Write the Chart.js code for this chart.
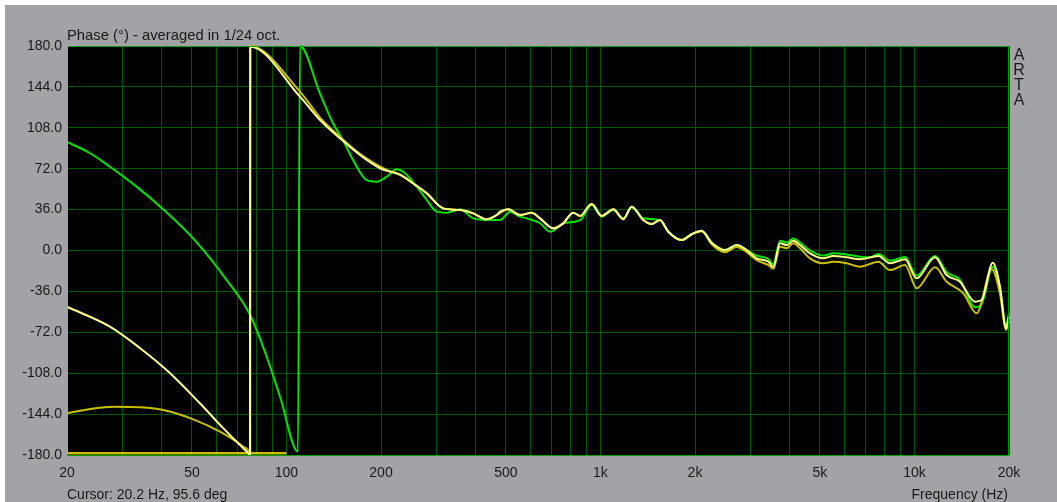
<!doctype html>
<html>

<head>
	<title>Phase - averaged in 1/24 oct.</title>
	<script src="https://cdn.jsdelivr.net/npm/chart.js@4"></script>
	<style>
		html, body {
			margin: 0;
			padding: 0;
			background: #fff;
		}
		#holder {
			width: 1057px;
			height: 502px;
		}
	</style>
</head>

<body>
	<div id="holder">
		<canvas id="phase" width="1057" height="502"></canvas>
	</div>
	<script>
		// axis grid / labels
		const GRID_HZ = [20, 30, 40, 50, 60, 70, 80, 90, 100, 200, 300, 400, 500, 600, 700, 800, 900,
			1000, 2000, 3000, 4000, 5000, 6000, 7000, 8000, 9000, 10000, 20000];
		const X_LABELS = {20: '20', 50: '50', 100: '100', 200: '200', 500: '500', 1000: '1k',
			2000: '2k', 5000: '5k', 10000: '10k', 20000: '20k'};
		const Y_TICKS = [-180, -144, -108, -72, -36, 0, 36, 72, 108, 144, 180];

		// green trace
		const GREEN_HZ = [20, 23.7, 27.4, 33.3, 39.6, 51, 64.5, 76.6, 86.5, 95.4, 108.8, 110.4,
			127.9, 140.7, 151.4, 162.9, 180, 193.8, 208.6, 224.4, 238.5, 259.9,
			279.7, 301, 323.8, 357, 393.4, 444.8, 478.6, 515, 554, 582,
			642, 690.6, 761, 860.6, 937.6, 1009, 1099, 1182, 1257, 1369,
			1547, 1644, 1814, 1952, 2100, 2260, 2492, 2716, 2922, 3144,
			3424, 3552, 3732, 3918, 4112, 4320, 4648, 5126, 5514, 6082,
			6708, 7218, 7672, 8356, 9330, 10164, 11626, 12666, 13964, 15586,
			16374, 17752, 18722, 19562, 20000];
		const GREEN_DEG = [95.6, 85.6, 73.7, 56.2, 38.6, 9.2, -26, -56.8, -93.5, -128.7, -177, 180,
			138, 112, 97, 79.7, 62, 60.6, 65, 71.5, 68, 56.2,
			44.5, 34.2, 33.3, 36.3, 28.3, 26.8, 26.8, 34.2, 29.8, 28.3,
			24, 16.5, 23.9, 26.8, 40, 29.8, 35.6, 28.3, 38, 28.3,
			26.8, 16.5, 9.2, 14.3, 17.4, 6.9, 0.4, 4.8, 0.4, -4.5,
			-7.5, -12, 8.5, 7, 10.5, 7, 0, -4.5, -2.5, -3.5,
			-5.5, -6, -3, -9, -5.8, -22, -4.8, -19, -26, -50,
			-47, -14.3, -34, -65.6, -55];

		// light yellow trace
		const YEL_HZ = [20, 27.4, 34.2, 42.6, 53, 62.2, 75.6, 76.6, 76.7, 110.4, 127.9, 148,
			171.4, 198.5, 230, 253.4, 279.7, 315.8, 357, 393.4, 434, 467,
			478.6, 508.6, 554, 604, 642, 707.6, 761, 819, 860.6, 937.6,
			1009, 1099, 1182, 1257, 1369, 1456, 1547, 1644, 1814, 1952,
			2100, 2260, 2492, 2716, 2922, 3144, 3424, 3552, 3732, 3918,
			4112, 4320, 4648, 5126, 5514, 6082, 6708, 7672, 8356, 9330,
			10164, 11626, 12666, 13964, 15586, 16374, 17752, 18722, 19562, 20000];
		const YEL_DEG = [-49.5, -67, -86, -108, -134.5, -155, -178.5, -180, 179.4, 135.4, 114.9, 98.8,
			84, 72.4, 66.5, 59, 50.4, 37.1, 35.7, 32.7, 27.5, 31.2,
			34.2, 36.3, 31.2, 33.3, 28.3, 19.5, 23.9, 33.3, 30.4, 40.9,
			30.4, 36.3, 27.5, 38.6, 26.8, 23.3, 26.8, 16.5, 9.2, 14.3,
			17.4, 6.9, 0.4, 4.8, 0.4, -6.9, -9.8, -14.3, 6.3, 4.8,
			8.6, 4.8, -2.5, -6.9, -4.8, -6, -7.7, -4.8, -11.3, -7.7,
			-24.5, -6, -21.6, -27.5, -45, -43.6, -10.7, -31.9, -68.5, -58];

		// dark yellow trace
		const OLIVE_HZ = [20, 24.3, 28.1, 34.2, 41.5, 50.5, 61.4, 72.9, 76.4, 76.5, 76.6, 110.4, 127.9,
			148, 171.4, 208.6, 230, 253.4, 279.7, 315.8, 357, 393.4, 434,
			467, 508.6, 554, 604, 642, 707.6, 761, 819, 860.6, 937.6,
			1009, 1099, 1182, 1257, 1369, 1456, 1547, 1644, 1814, 1952,
			2100, 2260, 2492, 2716, 2922, 3144, 3424, 3552, 3732, 3918,
			4112, 4320, 4648, 5126, 5514, 6082, 6708, 7672, 8356, 9330,
			10164, 11626, 12666, 14310, 15778, 17620, 18722, 19562, 20000];
		const OLIVE_DEG = [-143.3, -139, -137.5, -138, -141, -148.6, -159.5, -172.7, -179, -180, 180, 139.8, 117,
			100, 85, 70.9, 67, 59, 50.4, 37.1, 35.7, 32.7, 27.5,
			31.2, 36.3, 31.2, 33.3, 28.3, 19.5, 23.9, 33.3, 30.4, 40.9,
			30.4, 36.3, 27.5, 38.6, 26.8, 23.3, 26.8, 16.5, 9.2, 14.3,
			17, 5.5, -1.5, 3, -1.5, -8.5, -12.8, -16, 3.3, 2,
			6.3, 2, -6.9, -11.3, -10, -11.3, -14.3, -9.8, -17.2, -12.8,
			-33.2, -14.8, -27.5, -37.7, -55.3, -16.5, -38, -70, -62];

		// flat segment along the bottom
		const FLOOR_HZ = [20, 100];
		const FLOOR_DEG = [-178.5, -178.5];

		const pts = (hz, deg) => hz.map((f, i) => ({x: f, y: deg[i]}));

		const FONT = '"Liberation Sans", Arial, sans-serif';
		const TEXT = '#1a1a1a';
		const GRID = '#005800';

		const artaFrame = {
			id: 'artaFrame',
			beforeDraw(chart) {
				const {ctx, chartArea: a} = chart;
				ctx.save();
				ctx.fillStyle = '#ffffff';
				ctx.fillRect(0, 0, chart.width, chart.height);
				ctx.fillStyle = '#a3a3a7';
				ctx.fillRect(5, 5, chart.width - 5, chart.height - 5);
				ctx.fillStyle = '#000000';
				ctx.fillRect(a.left, a.top, a.right - a.left, a.bottom - a.top);
				ctx.restore();
			},
			afterDraw(chart) {
				const {ctx, chartArea: a} = chart;
				ctx.save();
				ctx.strokeStyle = '#00a000';
				ctx.lineWidth = 1;
				ctx.strokeRect(a.left + 0.5, a.top + 0.5, a.right - a.left - 1, a.bottom - a.top);
				ctx.strokeStyle = '#8cc81e';
				ctx.beginPath();
				ctx.moveTo(a.left + 0.5, a.top);
				ctx.lineTo(a.left + 0.5, a.bottom);
				ctx.stroke();

				ctx.fillStyle = TEXT;
				ctx.textBaseline = 'alphabetic';
				ctx.textAlign = 'left';
				ctx.font = '14.8px ' + FONT;
				ctx.fillText('Phase (°) - averaged in 1/24 oct.', a.left, 40);
				ctx.font = '14px ' + FONT;
				ctx.fillText('Cursor: 20.2 Hz, 95.6 deg', a.left, 499);
				ctx.textAlign = 'right';
				ctx.fillText('Frequency (Hz)', a.right - 1, 499);

				ctx.font = '16px ' + FONT;
				ctx.textAlign = 'center';
				['A', 'R', 'T', 'A'].forEach((ch, i) => {
					ctx.fillText(ch, 1019, 60 + i * 15);
				});
				ctx.restore();
			}
		};

		const line = (label, data, color, width) => ({
			label: label,
			data: data,
			borderColor: color,
			backgroundColor: color,
			borderWidth: width,
			pointRadius: 0,
			cubicInterpolationMode: 'monotone',
			fill: false,
			clip: 3
		});

		const config = {
			type: 'line',
			data: {
				datasets: [
					line('Light yellow', pts(YEL_HZ, YEL_DEG), '#ffff8c', 2),
					line('Dark yellow', pts(OLIVE_HZ, OLIVE_DEG), '#c8c000', 2),
					line('Green', pts(GREEN_HZ, GREEN_DEG), '#00e600', 2),
					line('Floor', pts(FLOOR_HZ, FLOOR_DEG), '#c8c000', 2.5)
				]
			},
			options: {
				responsive: false,
				animation: false,
				events: [],
				layout: {
					padding: {top: 46, right: 48, left: 0, bottom: 0}
				},
				plugins: {
					legend: {display: false},
					tooltip: {enabled: false},
					title: {display: false}
				},
				scales: {
					x: {
						type: 'logarithmic',
						min: 20,
						max: 20000,
						afterBuildTicks(scale) {
							scale.ticks = GRID_HZ.map(v => ({value: v}));
						},
						afterFit(scale) {
							scale.height = 47;
						},
						ticks: {
							autoSkip: false,
							maxRotation: 0,
							padding: 10,
							color: TEXT,
							font: {family: FONT, size: 14},
							callback: (v) => X_LABELS[v] || ''
						},
						grid: {color: GRID, lineWidth: 1, drawTicks: false},
						border: {display: false}
					},
					y: {
						min: -180,
						max: 180,
						afterBuildTicks(scale) {
							scale.ticks = Y_TICKS.map(v => ({value: v}));
						},
						afterFit(scale) {
							scale.width = 67;
						},
						ticks: {
							padding: 5,
							color: TEXT,
							font: {family: FONT, size: 14},
							callback: (v) => Number(v).toFixed(1)
						},
						grid: {color: GRID, lineWidth: 1, drawTicks: false},
						border: {display: false}
					}
				}
			},
			plugins: [artaFrame]
		};

		window.onload = function() {
			const ctx = document.getElementById('phase');
			window.phaseChart = new Chart(ctx, config);
		};
	</script>
</body>

</html>
